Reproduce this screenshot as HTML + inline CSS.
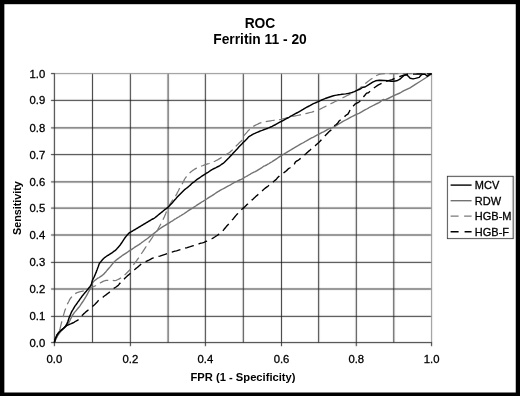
<!DOCTYPE html>
<html><head><meta charset="utf-8"><title>ROC Ferritin 11 - 20</title>
<style>
html,body{margin:0;padding:0;background:#000;}
body{width:520px;height:396px;overflow:hidden;position:relative;font-family:"Liberation Sans",sans-serif;}
svg{position:absolute;left:0;top:0;display:block;}
text{font-family:"Liberation Sans",sans-serif;fill:#000;}
.t{font-size:13.8px;font-weight:bold;}
.a{font-size:11.2px;font-weight:bold;}
.k{font-size:11.3px;stroke:#000;stroke-width:0.3px;}
</style></head><body>
<svg width="520" height="396" viewBox="0 0 520 396">
<rect x="0" y="0" width="520" height="396" fill="#000"/>
<rect x="4.35" y="4.2" width="511.4" height="388.3" fill="#fff"/>
<g class="t" text-anchor="middle"><text x="260" y="28">ROC</text><text x="260" y="44.4">Ferritin 11 - 20</text></g>
<defs><filter id="soft" x="0" y="0" width="520" height="396" filterUnits="userSpaceOnUse"><feConvolveMatrix order="3" kernelMatrix="0.0064 0.0672 0.0064 0.0672 0.7056 0.0672 0.0064 0.0672 0.0064" divisor="1" edgeMode="none" preserveAlpha="false"/></filter></defs>
<g filter="url(#soft)"><g stroke="#1c1c1c" stroke-width="0.95" fill="none"><line x1="92.5" y1="73.6" x2="92.5" y2="342.6"/><line x1="130.4" y1="73.6" x2="130.4" y2="342.6"/><line x1="168.1" y1="73.6" x2="168.1" y2="342.6"/><line x1="205.4" y1="73.6" x2="205.4" y2="342.6"/><line x1="243.3" y1="73.6" x2="243.3" y2="342.6"/><line x1="281.5" y1="73.6" x2="281.5" y2="342.6"/><line x1="318.65" y1="73.6" x2="318.65" y2="342.6"/><line x1="356.3" y1="73.6" x2="356.3" y2="342.6"/><line x1="393.8" y1="73.6" x2="393.8" y2="342.6"/><line x1="54.4" y1="316.4" x2="431.6" y2="316.4"/><line x1="54.4" y1="289.0" x2="431.6" y2="289.0"/><line x1="54.4" y1="262.4" x2="431.6" y2="262.4"/><line x1="54.4" y1="235.0" x2="431.6" y2="235.0"/><line x1="54.4" y1="208.1" x2="431.6" y2="208.1"/><line x1="54.4" y1="181.9" x2="431.6" y2="181.9"/><line x1="54.4" y1="154.6" x2="431.6" y2="154.6"/><line x1="54.4" y1="127.9" x2="431.6" y2="127.9"/><line x1="54.4" y1="100.4" x2="431.6" y2="100.4"/></g>
<g stroke="#8a8a8a" stroke-width="1" fill="none"><line x1="54.4" y1="73.6" x2="431.6" y2="73.6"/><line x1="431.6" y1="73.6" x2="431.6" y2="342.6"/></g>
<g stroke="#2b2b2b" stroke-width="1" fill="none"><line x1="54.4" y1="73.1" x2="54.4" y2="343.1"/><line x1="53.9" y1="342.6" x2="432.1" y2="342.6"/><line x1="51" y1="342.6" x2="54.4" y2="342.6"/><line x1="51" y1="316.4" x2="54.4" y2="316.4"/><line x1="51" y1="289.0" x2="54.4" y2="289.0"/><line x1="51" y1="262.4" x2="54.4" y2="262.4"/><line x1="51" y1="235.0" x2="54.4" y2="235.0"/><line x1="51" y1="208.1" x2="54.4" y2="208.1"/><line x1="51" y1="181.9" x2="54.4" y2="181.9"/><line x1="51" y1="154.6" x2="54.4" y2="154.6"/><line x1="51" y1="127.9" x2="54.4" y2="127.9"/><line x1="51" y1="100.4" x2="54.4" y2="100.4"/><line x1="51" y1="73.6" x2="54.4" y2="73.6"/><line x1="54.4" y1="342.6" x2="54.4" y2="346.2"/><line x1="130.4" y1="342.6" x2="130.4" y2="346.2"/><line x1="205.4" y1="342.6" x2="205.4" y2="346.2"/><line x1="281.5" y1="342.6" x2="281.5" y2="346.2"/><line x1="356.3" y1="342.6" x2="356.3" y2="346.2"/><line x1="431.6" y1="342.6" x2="431.6" y2="346.2"/></g></g>
<g fill="none" stroke-linejoin="round" stroke-linecap="butt">
<polyline stroke="#727272" stroke-width="1.4" points="54.4,342.6 54.9,341.2 55.5,339.8 56.2,338.5 56.9,337.2 57.6,335.9 58.4,334.7 59.2,333.6 60.1,332.4 61.0,331.3 62.0,330.3 62.9,329.3 63.9,328.3 64.9,327.2 65.9,326.2 66.8,325.2 67.7,324.0 68.6,322.9 69.3,321.6 70.0,320.3 70.6,318.9 71.3,317.6 71.9,316.2 72.7,315.0 73.5,313.8 74.3,312.6 75.2,311.6 76.2,310.5 77.1,309.4 78.0,308.3 78.9,307.2 79.8,306.1 80.6,304.9 81.4,303.7 82.2,302.5 83.0,301.3 83.8,300.1 84.6,298.9 85.3,297.6 86.1,296.4 86.8,295.1 87.5,293.8 88.2,292.5 88.9,291.2 89.6,289.9 90.2,288.6 90.8,287.1 91.3,285.6 91.8,284.2 92.5,282.8 93.4,281.7 94.4,280.8 95.6,279.9 96.7,279.0 97.9,278.2 99.2,277.5 100.4,276.7 101.6,275.9 102.7,275.0 103.8,274.1 104.7,273.0 105.7,272.0 106.6,270.9 107.5,269.8 108.4,268.7 109.3,267.7 110.3,266.6 111.2,265.5 112.1,264.4 113.0,263.3 113.9,262.3 114.9,261.2 116.0,260.3 117.1,259.4 118.2,258.6 119.4,257.7 120.6,256.9 121.7,256.0 122.9,255.2 124.1,254.4 125.3,253.6 126.5,252.8 127.7,252.0 128.9,251.2 130.1,250.4 131.3,249.6 132.5,248.8 133.7,248.0 134.9,247.2 136.1,246.4 137.3,245.7 138.6,244.9 139.7,244.1 140.9,243.2 142.0,242.3 143.2,241.5 144.3,240.7 145.5,239.8 146.7,239.0 147.8,238.2 148.9,237.3 150.1,236.4 151.2,235.5 152.3,234.6 153.5,233.8 154.6,232.9 155.7,232.0 156.8,231.1 157.8,230.2 159.0,229.3 160.2,228.5 161.4,227.7 162.6,226.9 163.8,226.1 165.1,225.4 166.3,224.6 167.5,223.8 168.8,223.1 170.0,222.3 171.2,221.5 172.5,220.8 173.7,220.0 174.9,219.2 176.2,218.5 177.4,217.7 178.7,217.0 179.9,216.2 181.2,215.5 182.4,214.7 183.6,214.0 184.8,213.2 186.0,212.3 187.2,211.5 188.4,210.7 189.6,209.9 190.8,209.1 192.0,208.3 193.2,207.6 194.4,206.8 195.7,206.0 196.9,205.2 198.1,204.4 199.3,203.6 200.5,202.8 201.7,202.0 203.0,201.3 204.2,200.5 205.4,199.8 206.7,199.0 207.9,198.2 209.1,197.4 210.3,196.6 211.6,195.9 212.8,195.1 214.0,194.3 215.2,193.5 216.4,192.7 217.6,191.9 218.9,191.2 220.1,190.4 221.4,189.7 222.7,189.0 224.0,188.3 225.3,187.6 226.6,186.9 227.9,186.2 229.2,185.5 230.5,184.8 231.7,184.0 232.9,183.3 234.2,182.5 235.6,181.9 236.9,181.3 238.3,180.6 239.7,180.0 241.1,179.4 242.4,178.8 243.7,178.0 244.9,177.2 246.2,176.5 247.4,175.8 248.7,175.0 250.0,174.3 251.2,173.5 252.5,172.8 253.9,172.2 255.3,171.7 256.6,170.9 257.8,170.1 259.0,169.3 260.2,168.6 261.5,167.8 262.7,167.0 263.9,166.2 265.3,165.6 266.6,165.0 267.9,164.2 269.2,163.5 270.4,162.7 271.7,162.0 272.9,161.2 274.1,160.4 275.3,159.6 276.5,158.8 277.7,158.0 278.9,157.2 280.1,156.4 281.3,155.6 282.5,154.8 283.8,154.1 285.0,153.3 286.3,152.6 287.5,151.8 288.8,151.1 290.0,150.3 291.3,149.6 292.5,148.8 293.7,148.1 295.0,147.3 296.3,146.6 297.6,145.9 298.8,145.2 300.1,144.4 301.4,143.7 302.7,143.0 303.9,142.3 305.2,141.5 306.5,140.8 307.7,140.1 309.0,139.3 310.3,138.6 311.6,137.9 312.9,137.3 314.3,136.6 315.6,135.9 316.9,135.2 318.2,134.5 319.5,133.8 320.8,133.1 322.1,132.4 323.5,131.8 324.8,131.1 326.1,130.4 327.3,129.6 328.6,128.9 330.0,128.3 331.5,127.8 333.0,127.3 334.4,126.8 335.7,126.0 336.9,125.2 338.1,124.4 339.3,123.7 340.6,122.9 341.8,122.1 343.0,121.3 344.4,120.7 345.7,120.0 347.0,119.3 348.3,118.6 349.6,117.9 350.9,117.2 352.2,116.5 353.5,115.8 354.8,115.1 356.2,114.5 357.6,113.9 359.0,113.3 360.3,112.6 361.6,111.9 362.8,111.1 364.1,110.4 365.4,109.7 366.7,109.0 367.9,108.3 369.2,107.5 370.5,106.8 371.9,106.2 373.2,105.5 374.5,104.8 375.8,104.1 377.2,103.5 378.6,102.9 379.8,102.2 380.9,101.2 381.9,100.3 383.1,99.5 385.2,100.0 393.8,95.7 400.0,93.0 403.5,90.9 410.0,87.8 415.0,84.6 420.0,81.5 425.5,78.0 431.6,73.8"/>
<polyline stroke="#7a7a7a" stroke-width="1.25" stroke-dasharray="9 4.5" points="54.4,342.6 54.9,341.2 55.5,339.8 56.1,338.4 56.7,337.1 57.3,335.7 57.9,334.3 58.5,332.8 59.1,331.4 59.6,329.9 60.1,328.4 60.5,326.8 60.9,325.2 61.3,323.6 61.7,322.0 62.1,320.4 62.5,318.9 63.0,317.3 63.4,315.7 63.8,314.1 64.3,312.6 64.7,311.0 65.3,309.6 65.8,308.1 66.3,306.7 66.9,305.2 67.5,303.9 68.2,302.5 68.9,301.2 69.5,299.9 70.3,298.6 71.2,297.5 72.1,296.4 73.0,295.3 74.0,294.3 75.3,293.6 76.6,292.9 78.0,292.3 79.5,291.9 81.2,291.5 82.8,291.1 84.4,290.7 85.9,290.2 87.4,289.7 88.8,289.1 90.1,288.4 91.3,287.7 92.7,287.0 94.1,286.4 95.5,285.8 96.8,285.1 98.1,284.4 99.3,283.6 100.5,282.8 101.8,282.1 103.1,281.4 104.5,280.8 106.1,280.4 108.0,280.3 110.0,280.3 112.1,280.4 114.3,280.6 116.1,280.4 117.4,279.8 118.8,279.1 120.1,278.4 121.3,277.6 122.4,276.7 123.5,275.8 124.6,274.9 125.7,274.0 126.7,273.0 127.7,272.0 128.7,271.0 129.7,270.0 130.5,268.9 131.4,267.7 132.2,266.5 133.0,265.4 133.9,264.2 134.7,263.1 135.6,261.9 136.5,260.8 137.3,259.6 138.2,258.5 139.0,257.3 139.8,256.1 140.6,254.9 141.4,253.7 142.2,252.5 143.0,251.3 143.8,250.1 144.6,248.9 145.4,247.7 146.2,246.5 147.0,245.3 147.8,244.1 148.6,242.9 149.4,241.7 150.2,240.6 151.0,239.4 151.9,238.2 152.6,237.0 153.3,235.7 154.1,234.4 155.0,233.3 155.9,232.2 156.8,231.1 157.6,230.0 158.3,228.6 159.0,227.3 159.7,226.0 160.4,224.7 161.1,223.4 161.8,222.1 162.5,220.8 163.1,219.4 163.7,218.1 164.4,216.7 165.0,215.3 165.6,213.9 166.1,212.5 166.7,211.0 167.3,209.6 167.9,208.2 168.4,206.7 169.2,205.5 169.9,204.3 170.7,203.0 171.5,201.8 172.3,200.6 173.1,199.4 173.9,198.2 174.7,197.1 175.6,195.9 176.4,194.7 177.0,193.4 177.7,192.0 178.4,190.7 179.0,189.4 179.8,188.1 180.5,186.8 181.3,185.6 182.0,184.3 182.7,183.0 183.4,181.7 184.0,180.4 184.7,179.0 185.5,177.9 186.4,176.7 187.3,175.6 188.2,174.6 189.2,173.5 190.2,172.5 191.3,171.6 192.3,170.7 193.6,169.9 194.8,169.1 196.1,168.4 197.5,167.8 198.9,167.2 200.3,166.6 201.7,166.0 203.2,165.5 204.6,164.9 206.1,164.4 207.6,163.9 209.1,163.5 210.6,163.0 212.1,162.4 213.5,161.8 214.8,161.2 216.2,160.5 217.6,159.9 218.8,159.1 220.0,158.4 221.3,157.6 222.5,156.8 223.7,156.0 225.0,155.3 226.2,154.5 227.4,153.7 228.7,153.0 229.8,152.2 230.9,151.2 232.0,150.3 233.0,149.3 234.0,148.3 234.9,147.2 235.9,146.2 236.9,145.3 238.0,144.3 238.9,143.2 239.9,142.2 241.0,141.3 242.0,140.3 242.8,139.1 243.3,137.6 243.7,136.0 244.6,134.9 245.5,133.8 246.4,132.8 247.4,131.7 248.3,130.6 249.4,129.7 250.5,128.8 251.5,127.9 252.6,126.9 253.8,126.1 255.1,125.4 256.4,124.7 257.8,124.1 259.1,123.4 260.6,122.9 262.2,122.5 263.8,122.1 265.4,121.7 267.1,121.4 268.8,121.1 270.5,120.8 272.2,120.5 274.0,120.3 275.8,120.1 277.5,119.9 279.3,119.6 281.0,119.3 282.6,118.9 284.2,118.5 285.8,118.1 287.4,117.7 289.0,117.3 290.6,116.9 292.2,116.5 293.8,116.2 295.5,115.8 297.2,115.5 298.9,115.2 300.5,114.8 302.2,114.5 303.8,114.1 305.4,113.7 307.0,113.3 308.6,112.9 310.2,112.5 311.8,112.1 313.3,111.6 314.8,111.1 316.3,110.6 317.8,110.1 319.2,109.5 320.6,108.9 321.9,108.2 323.2,107.5 324.6,106.9 325.9,106.2 327.2,105.5 328.6,104.9 329.9,104.2 331.2,103.5 332.6,102.9 333.9,102.2 335.2,101.5 336.6,100.9 337.9,100.2 339.2,99.5 340.6,98.9 341.9,98.2 343.2,97.5 344.6,96.9 345.9,96.2 347.2,95.5 348.6,94.9 349.9,94.2 351.2,93.5 352.6,92.9 353.9,92.2 355.1,91.4 356.3,90.6 357.5,89.8 358.7,89.0 359.9,88.2 360.9,87.3 362.0,86.3 363.1,85.4 364.2,84.5 365.3,83.6 366.4,82.7 367.5,81.8 368.6,80.9 369.8,80.1 370.9,79.2 372.1,78.4 373.3,77.6 374.5,76.8 375.7,76.0 377.0,75.3 378.4,74.7 379.9,74.2 381.6,73.9 387.7,73.6 431.6,73.6"/>
<polyline stroke="#000" stroke-width="1.4" points="54.4,342.6 54.7,341.0 55.1,339.4 55.6,338.0 56.3,336.6 56.9,335.2 57.7,334.0 58.5,332.8 59.5,331.8 60.5,330.8 61.6,329.9 62.7,329.0 63.8,328.1 64.8,327.1 65.9,326.2 67.1,325.4 68.5,324.8 69.9,324.2 71.3,323.6 72.6,323.0 74.0,322.3 75.2,321.5 76.5,320.8 77.8,320.1 78.5,319.5"/><polyline stroke="#000" stroke-width="1.38" stroke-dasharray="9 5" stroke-dashoffset="9" points="78.5,319.5 78.9,319.2 79.8,318.1 80.7,317.1 81.7,316.0 82.6,314.9 83.6,313.9 84.7,313.0 85.7,312.0 86.8,311.1 87.9,310.2 89.0,309.3 90.1,308.4 91.2,307.5 92.3,306.6 93.4,305.7 94.5,304.8 95.5,303.8 96.4,302.8 97.4,301.7 98.3,300.6 99.3,299.6 100.4,298.8 101.7,298.0 102.9,297.2 104.0,296.3 105.1,295.5 106.3,294.6 107.4,293.7 108.6,292.9 109.7,292.0 110.8,291.1 111.8,290.2 112.9,289.2 114.0,288.3 115.2,287.5 116.4,286.7 117.5,285.9 118.6,284.9 119.5,283.8 120.4,282.7 121.3,281.6 122.2,280.5 123.3,279.6 124.4,278.7 125.4,277.7 126.5,276.8 127.5,275.8 128.6,274.9 129.6,274.0 130.7,273.0 131.8,272.1 132.8,271.2 133.9,270.2 135.0,269.3 136.0,268.4 137.2,267.5 138.3,266.6 139.3,265.7 140.4,264.7 141.4,263.8 142.7,263.0 144.0,262.3 145.4,261.7 146.8,261.1 148.2,260.5 149.5,259.8 150.8,259.1 152.1,258.4 153.5,257.8 155.0,257.4 156.6,256.9 158.2,256.5 159.8,256.1 161.3,255.6 162.8,255.1 164.3,254.6 165.8,254.1 167.3,253.6 168.8,253.1 170.3,252.6 171.9,252.2 173.4,251.7 174.9,251.2 176.5,250.8 178.0,250.3 179.5,249.8 181.1,249.4 182.6,248.9 184.2,248.5 185.7,248.0 187.2,247.6 188.8,247.1 190.3,246.7 191.9,246.2 193.4,245.7 194.9,245.2 196.4,244.7 197.9,244.2 199.4,243.7 200.9,243.2 202.5,242.8 204.0,242.3 205.4,241.7 206.7,241.1 208.1,240.4 209.5,239.8 210.9,239.2 212.2,238.5 213.4,237.8 214.7,237.0 215.9,236.2 217.1,235.5 218.3,234.6 219.4,233.7 220.5,232.8 221.6,231.9 222.6,230.9 223.6,229.9 224.5,228.8 225.4,227.7 226.3,226.6 227.3,225.6 228.2,224.5 229.2,223.5 230.1,222.4 231.0,221.3 231.9,220.2 232.9,219.2 233.8,218.1 234.7,217.0 235.6,215.9 236.5,214.9 237.5,213.8 238.4,212.7 239.3,211.6 240.3,210.7 241.4,209.7 242.5,208.8 243.6,207.9 244.6,206.9 245.6,205.9 246.6,204.9 247.7,204.0 248.7,203.0 249.7,202.0 250.8,201.1 251.8,200.1 252.9,199.2 253.9,198.2 255.0,197.3 256.0,196.3 257.1,195.4 258.1,194.4 259.2,193.5 260.2,192.5 261.3,191.6 262.3,190.7 263.4,189.7 264.5,188.8 265.6,187.9 266.7,187.1 267.9,186.2 269.0,185.3 270.2,184.5 271.3,183.6 272.3,182.7 273.4,181.7 274.5,180.8 275.6,179.9 276.6,178.9 277.5,177.8 278.5,176.8 279.5,175.8 280.7,175.0 282.0,174.3 283.1,173.4 284.2,172.5 285.3,171.6 286.5,170.8 287.4,169.7 288.4,168.7 289.7,168.0 290.9,167.2 292.1,166.4 293.3,165.6 294.2,164.5 294.8,163.2 295.5,161.9 296.7,161.0 298.0,160.4 299.2,159.5 300.3,158.6 301.4,157.7 302.5,156.8 303.6,155.9 304.6,154.9 305.7,154.0 306.7,153.0 307.8,152.1 308.8,151.1 309.9,150.2 310.9,149.2 312.0,148.3 313.1,147.4 314.2,146.5 315.3,145.6 316.3,144.7 317.4,143.7 318.5,142.8 319.5,141.8 320.5,140.8 321.4,139.7 322.4,138.7 323.4,137.7 324.3,136.6 325.3,135.6 326.3,134.6 327.3,133.6 328.2,132.5 329.2,131.5 330.3,130.6 331.4,129.8 332.0,128.4 332.7,127.1 333.9,126.2 335.0,125.3 336.2,124.5 337.3,123.6 338.2,122.5 338.9,121.2 340.0,120.3 341.2,119.5 342.4,118.7 343.6,117.9 344.5,116.8 345.4,115.7 346.6,114.9 347.9,114.2 348.6,112.9 349.3,111.6 349.9,110.3 350.6,108.9 351.4,107.7 352.5,106.8 353.5,105.8 354.5,104.8 355.4,103.8 356.8,103.1 358.2,102.5 359.4,101.7 360.4,100.7 361.3,99.6 362.2,98.5 363.1,97.4 364.0,96.3 364.9,95.2 365.8,94.1 366.8,93.1 368.4,92.8 374.6,87.5 378.0,85.1 384.2,82.2 387.6,80.8 392.0,79.6 397.2,77.4 403.0,75.5 407.3,74.3 410.0,74.3 411.9,74.2 413.8,74.1 415.8,74.1 417.7,74.0 419.7,74.0 421.6,73.9 423.6,73.9 425.6,73.9 427.6,73.9 429.6,73.9 431.6,73.9 431.6,73.9"/>
<polyline stroke="#000" stroke-width="1.45" points="54.4,342.6 54.7,341.0 55.1,339.4 55.6,338.0 56.3,336.6 56.9,335.2 57.7,334.0 58.5,332.8 59.5,331.8 60.5,330.8 61.6,329.9 62.7,329.0 63.8,328.1 64.8,327.1 65.7,326.0 66.4,324.7 67.1,323.4 67.7,322.0 68.2,320.5 68.7,319.0 69.2,317.6 69.8,316.1 70.4,314.7 71.0,313.3 71.6,311.9 72.3,310.6 73.1,309.4 73.8,308.1 74.5,306.8 75.3,305.6 76.2,304.5 77.0,303.3 77.8,302.1 78.7,301.0 79.5,299.8 80.3,298.6 81.2,297.5 82.0,296.3 82.9,295.2 83.8,294.1 84.7,293.0 85.6,291.9 86.5,290.9 87.4,289.8 88.3,288.6 89.2,287.5 90.1,286.4 90.9,285.2 91.5,283.8 91.9,282.2 92.3,280.6 92.9,279.3 93.6,278.0 94.3,276.6 94.9,275.2 95.5,273.8 96.1,272.4 96.6,270.9 97.2,269.5 97.7,268.1 98.3,266.6 98.8,265.1 99.3,263.6 100.2,262.5 101.1,261.4 102.0,260.3 102.9,259.3 103.9,258.2 105.0,257.3 106.2,256.5 107.4,255.7 108.7,255.0 109.9,254.2 111.1,253.4 112.3,252.6 113.4,251.7 114.6,250.9 115.7,250.1 116.7,249.0 117.6,247.9 118.5,246.9 119.5,245.8 120.4,244.7 121.2,243.5 122.0,242.3 122.8,241.1 123.6,239.9 124.4,238.7 125.2,237.5 126.1,236.4 127.0,235.3 127.9,234.3 128.9,233.2 130.1,232.4 131.4,231.7 132.6,231.0 133.9,230.2 135.2,229.5 136.4,228.7 137.7,228.0 138.9,227.2 140.2,226.5 141.4,225.7 142.7,225.0 143.9,224.2 145.2,223.5 146.4,222.7 147.7,222.0 148.9,221.2 150.2,220.5 151.4,219.7 152.7,219.0 154.0,218.3 155.2,217.5 156.3,216.6 157.4,215.7 158.5,214.8 159.6,213.9 160.7,213.0 161.8,212.1 162.9,211.2 164.0,210.3 165.1,209.4 166.3,208.6 167.4,207.7 168.5,206.8 169.5,205.8 170.4,204.8 171.4,203.7 172.4,202.7 173.3,201.6 174.2,200.5 175.1,199.5 176.1,198.4 177.0,197.3 178.0,196.3 179.0,195.3 180.0,194.3 181.0,193.3 182.0,192.3 183.0,191.3 184.0,190.3 185.0,189.3 186.1,188.5 187.3,187.6 188.4,186.7 189.5,185.8 190.6,184.9 191.5,183.8 192.6,182.9 193.8,182.1 194.9,181.2 196.0,180.3 197.1,179.4 198.3,178.6 199.5,177.8 200.7,177.0 201.9,176.2 203.1,175.4 204.3,174.6 205.5,173.8 206.7,173.0 208.0,172.3 209.2,171.5 210.4,170.7 211.6,169.9 212.9,169.2 214.2,168.5 215.6,167.9 216.9,167.2 218.2,166.5 219.5,165.8 220.7,165.0 221.9,164.2 223.1,163.4 224.2,162.5 225.2,161.5 226.2,160.5 227.2,159.5 228.2,158.5 229.2,157.5 230.1,156.5 231.1,155.4 232.1,154.4 233.0,153.3 234.0,152.3 235.0,151.3 235.9,150.2 236.9,149.2 237.8,148.2 238.8,147.1 239.8,146.1 240.8,145.1 241.8,144.1 242.7,143.0 243.7,142.0 244.8,141.1 245.8,140.1 246.8,139.1 247.7,138.0 248.6,136.9 249.8,136.1 251.1,135.4 252.3,134.6 253.6,133.9 255.0,133.3 256.4,132.7 257.8,132.1 259.2,131.5 260.6,130.9 262.1,130.4 263.5,129.8 265.0,129.3 266.4,128.7 267.8,128.2 269.3,127.6 270.7,127.0 272.1,126.4 273.4,125.7 274.7,125.0 275.9,124.3 277.2,123.6 278.5,122.9 279.8,122.2 281.2,121.5 282.5,120.8 283.8,120.1 285.1,119.4 286.4,118.7 287.7,118.0 289.0,117.3 290.2,116.5 291.5,115.8 292.8,115.1 294.1,114.4 295.4,113.7 296.7,113.0 298.0,112.3 299.3,111.6 300.6,110.9 301.8,110.1 303.1,109.4 304.3,108.6 305.6,107.9 306.9,107.2 308.2,106.5 309.5,105.8 310.8,105.1 312.1,104.4 313.4,103.7 314.8,103.1 316.2,102.5 317.6,101.9 319.0,101.3 320.3,100.7 321.7,100.0 323.1,99.4 324.5,98.8 325.9,98.2 327.4,97.7 328.9,97.2 330.4,96.7 331.9,96.2 333.5,95.8 335.1,95.4 336.8,95.1 338.5,94.8 340.2,94.6 342.0,94.3 343.8,94.1 345.6,93.9 347.3,93.6 349.0,93.3 350.6,92.9 352.1,92.5 353.6,91.9 355.0,91.3 356.4,90.7 357.7,90.1 359.1,89.5 360.5,88.8 361.7,88.0 362.9,87.2 365.0,87.0 368.8,84.6 372.7,82.2 375.6,80.8 379.4,80.3 384.2,80.5 388.1,80.8 391.0,81.2 393.8,81.2 396.7,80.8 399.6,79.4 402.0,77.3 403.9,75.5 406.3,74.6 408.3,76.3 410.2,78.3 413.1,78.9 415.4,78.4 419.2,77.4 420.7,75.5 422.6,74.1 425.0,74.3 427.4,76.3 428.8,75.0 431.6,73.6"/>
</g>
<g class="k"><text x="45.3" y="346.5" text-anchor="end">0.0</text><text x="45.3" y="320.3" text-anchor="end">0.1</text><text x="45.3" y="292.9" text-anchor="end">0.2</text><text x="45.3" y="266.3" text-anchor="end">0.3</text><text x="45.3" y="238.9" text-anchor="end">0.4</text><text x="45.3" y="212.0" text-anchor="end">0.5</text><text x="45.3" y="185.8" text-anchor="end">0.6</text><text x="45.3" y="158.5" text-anchor="end">0.7</text><text x="45.3" y="131.8" text-anchor="end">0.8</text><text x="45.3" y="104.3" text-anchor="end">0.9</text><text x="45.3" y="77.5" text-anchor="end">1.0</text><text x="54.4" y="362.8" text-anchor="middle">0.0</text><text x="130.4" y="362.8" text-anchor="middle">0.2</text><text x="205.4" y="362.8" text-anchor="middle">0.4</text><text x="281.5" y="362.8" text-anchor="middle">0.6</text><text x="356.3" y="362.8" text-anchor="middle">0.8</text><text x="431.6" y="362.8" text-anchor="middle">1.0</text></g>
<text class="a" text-anchor="middle" x="243" y="381">FPR (1 - Specificity)</text>
<text class="a" style="font-size:11.6px" text-anchor="middle" transform="translate(21.4,208.1) rotate(-90) scale(0.93,1)">Sensitivity</text>
<g filter="url(#soft)"><rect x="447.5" y="176.4" width="65.7" height="62.1" fill="#fff" stroke="#111" stroke-width="0.95"/></g>
<g fill="none">
<line x1="450.6" y1="185.1" x2="471.6" y2="185.1" stroke="#000" stroke-width="1.4"/>
<line x1="450.6" y1="200.7" x2="471.6" y2="200.7" stroke="#727272" stroke-width="1.4"/>
<line x1="450.6" y1="216.2" x2="471.6" y2="216.2" stroke="#7a7a7a" stroke-width="1.25" stroke-dasharray="8 5.5"/>
<line x1="450.6" y1="231.8" x2="471.6" y2="231.8" stroke="#000" stroke-width="1.55" stroke-dasharray="8 6"/>
</g>
<g class="k" style="font-size:11px"><text x="474.8" y="189">MCV</text><text x="474.8" y="204.6">RDW</text><text x="474.8" y="220.1">HGB-M</text><text x="474.8" y="235.7">HGB-F</text></g>
</svg>
</body></html>
